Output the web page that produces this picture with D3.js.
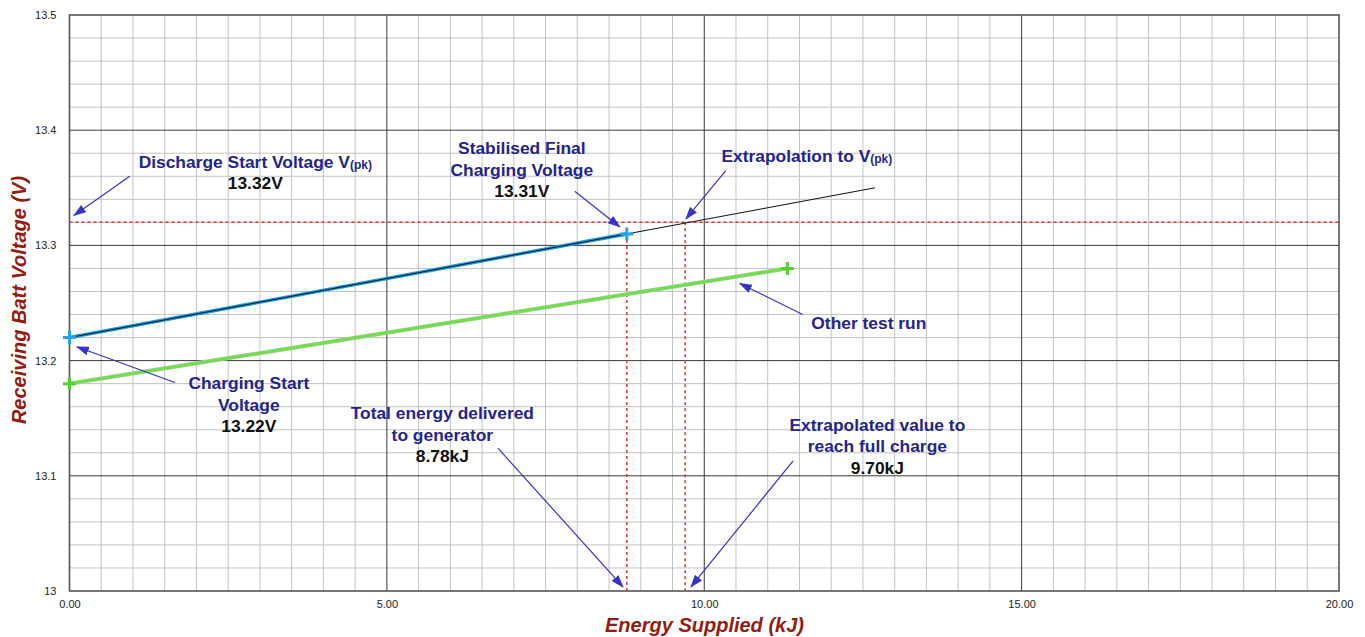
<!DOCTYPE html>
<html>
<head>
<meta charset="utf-8">
<script src="https://cdn.jsdelivr.net/npm/d3@7"></script>
<style>
  html, body { margin: 0; padding: 0; background: #fff; }
  svg { display: block; }
  text { font-family: Helvetica, Arial, "Liberation Sans", sans-serif; }
</style>
</head>
<body>
<svg id="chart" width="1365" height="637"></svg>
<script>
// ---------- data ----------
const xTicks = [0, 5, 10, 15, 20];
const yTicks = [13, 13.1, 13.2, 13.3, 13.4, 13.5];
const yTickLabels = ["13", "13.1", "13.2", "13.3", "13.4", "13.5"];

const chargeRunEnergy = [0, 8.78];
const chargeRunVoltage = [13.22, 13.31];

const otherRunEnergy = [0, 11.31];
const otherRunVoltage = [13.18, 13.28];

const trendEnergy = [0, 12.69];
const trendVoltage = [13.22, 13.35];

const peakVoltage = 13.32;
const totalEnergy = 8.78;
const extrapolatedEnergy = 9.70;
const finalVoltage = 13.31;

// annotation texts (text anchor, arrow tail and tip in data units)
const annotations = [
  { lines: [["Discharge Start Voltage V", "(pk)"], "13.32V"], tx: 2.927, ty: 13.3672,
    tail: [0.95, 13.360], tip: [0.07, 13.326] },
  { lines: ["Charging Start", "Voltage", "13.22V"], tx: 2.825, ty: 13.1753,
    tail: [1.66, 13.181], tip: [0.115, 13.212] },
  { lines: ["Stabilised Final", "Charging Voltage", "13.31V"], tx: 7.126, ty: 13.3793,
    tail: [7.96, 13.347], tip: [8.67, 13.316] },
  { lines: [["Extrapolation to V", "(pk)"]], tx: 11.617, ty: 13.3724,
    tail: [10.34, 13.365], tip: [9.71, 13.323] },
  { lines: ["Other test run"], tx: 12.593, ty: 13.2274,
    tail: [11.55, 13.240], tip: [10.56, 13.267] },
  { lines: ["Total energy delivered", "to generator", "8.78kJ"], tx: 5.874, ty: 13.1493,
    tail: [6.75, 13.124], tip: [8.72, 13.0035] },
  { lines: ["Extrapolated value to", "reach full charge", "9.70kJ"], tx: 12.727, ty: 13.1389,
    tail: [11.40, 13.113], tip: [9.79, 13.0035] }
];

// ---------- layout ----------
const svg = d3.select("#chart");
const pLeft = 69.5, pRight = 1339, pTop = 15, pBottom = 591;
const x = d3.scaleLinear().domain([0, 20]).range([pLeft, pRight]);
const y = d3.scaleLinear().domain([13, 13.5]).range([pBottom, pTop]);

const defs = svg.append("defs");
defs.append("marker")
  .attr("id", "arrow")
  .attr("markerUnits", "userSpaceOnUse")
  .attr("viewBox", "0 0 13 9")
  .attr("refX", 12).attr("refY", 4.5)
  .attr("markerWidth", 13).attr("markerHeight", 9)
  .attr("orient", "auto")
  .append("path").attr("d", "M0,0 L13,4.5 L0,9 Z").attr("fill", "#3434c8");

// ---------- grid ----------
const minorX = d3.range(1, 40).map(i => i * 0.5).filter((v, i) => (i + 1) % 10 !== 0);
const minorY = d3.range(1, 25).map(i => 13 + i * 0.02).filter((v, i) => (i + 1) % 5 !== 0);

const grid = svg.append("g");
grid.selectAll("line.mx").data(minorX).join("line").attr("class", "mx")
  .attr("x1", d => x(d)).attr("x2", d => x(d)).attr("y1", pTop).attr("y2", pBottom)
  .attr("stroke", "#c3c3c3").attr("stroke-width", 1);
grid.selectAll("line.my").data(minorY).join("line").attr("class", "my")
  .attr("y1", d => y(d)).attr("y2", d => y(d)).attr("x1", pLeft).attr("x2", pRight)
  .attr("stroke", "#c3c3c3").attr("stroke-width", 1);
grid.selectAll("line.MX").data(xTicks.slice(1, -1)).join("line").attr("class", "MX")
  .attr("x1", d => x(d)).attr("x2", d => x(d)).attr("y1", pTop).attr("y2", pBottom)
  .attr("stroke", "#3a3a3a").attr("stroke-width", 1);
grid.selectAll("line.MY").data(yTicks.slice(1, -1)).join("line").attr("class", "MY")
  .attr("y1", d => y(d)).attr("y2", d => y(d)).attr("x1", pLeft).attr("x2", pRight)
  .attr("stroke", "#3a3a3a").attr("stroke-width", 1);

svg.append("rect")
  .attr("x", pLeft).attr("y", pTop).attr("width", pRight - pLeft).attr("height", pBottom - pTop)
  .attr("fill", "none").attr("stroke", "#555").attr("stroke-width", 1.6);

// ---------- axes ----------
const xAxis = d3.axisBottom(x).tickValues(xTicks).tickFormat(d3.format(".2f")).tickSize(0).tickPadding(9);
const gx = svg.append("g").attr("transform", `translate(0,${pBottom})`).call(xAxis);
gx.select(".domain").remove();
gx.selectAll("text").attr("font-size", 11).attr("fill", "#222")
  .attr("font-family", "Helvetica, Arial, 'Liberation Sans', sans-serif");

const yAxis = d3.axisLeft(y).tickValues(yTicks).tickFormat((d, i) => yTickLabels[i]).tickSize(0).tickPadding(13);
const gy = svg.append("g").attr("transform", `translate(${pLeft},0)`).call(yAxis);
gy.select(".domain").remove();
gy.selectAll("text").attr("font-size", 11).attr("fill", "#222")
  .attr("font-family", "Helvetica, Arial, 'Liberation Sans', sans-serif");

svg.append("text")
  .attr("x", 704.5).attr("y", 631.5).attr("text-anchor", "middle")
  .attr("font-size", 20).attr("font-weight", "bold").attr("font-style", "italic")
  .attr("fill", "#941c10").text("Energy Supplied (kJ)");
svg.append("text")
  .attr("transform", "translate(25.5,300) rotate(-90)").attr("text-anchor", "middle")
  .attr("font-size", 20).attr("font-weight", "bold").attr("font-style", "italic")
  .attr("fill", "#941c10").text("Receiving Batt Voltage (V)");

// ---------- reference dashed lines ----------
const red = "#e8342a";
svg.append("line")
  .attr("x1", x(0)).attr("x2", x(20)).attr("y1", y(peakVoltage)).attr("y2", y(peakVoltage))
  .attr("stroke", red).attr("stroke-width", 1.5).attr("stroke-dasharray", "3,3");
svg.append("line")
  .attr("x1", x(totalEnergy)).attr("x2", x(totalEnergy)).attr("y1", y(finalVoltage)).attr("y2", y(13))
  .attr("stroke", red).attr("stroke-width", 1.5).attr("stroke-dasharray", "3,3");
svg.append("line")
  .attr("x1", x(extrapolatedEnergy)).attr("x2", x(extrapolatedEnergy)).attr("y1", y(peakVoltage)).attr("y2", y(13))
  .attr("stroke", red).attr("stroke-width", 1.5).attr("stroke-dasharray", "3,3");

// ---------- series ----------
const line = d3.line().x(d => x(d[0])).y(d => y(d[1]));
const zip = (a, b) => a.map((v, i) => [v, b[i]]);

svg.append("path").datum(zip(otherRunEnergy, otherRunVoltage))
  .attr("d", line).attr("fill", "none").attr("stroke", "#b8c8b0").attr("stroke-width", 4.2);
svg.append("path").datum(zip(otherRunEnergy, otherRunVoltage))
  .attr("d", line).attr("fill", "none").attr("stroke", "#6fe04c").attr("stroke-width", 3);

svg.append("path").datum(zip(chargeRunEnergy, chargeRunVoltage))
  .attr("d", line).attr("fill", "none").attr("stroke", "#1c9ee8").attr("stroke-width", 3.6);
svg.append("path").datum(zip(trendEnergy, trendVoltage))
  .attr("d", line).attr("fill", "none").attr("stroke", "#111").attr("stroke-width", 1);

const plus = (cx, cy, color) => {
  const s = 6.5;
  svg.append("path")
    .attr("d", `M${cx - s},${cy} H${cx + s} M${cx},${cy - s} V${cy + s}`)
    .attr("stroke", color).attr("stroke-width", 3).attr("fill", "none");
};
zip(chargeRunEnergy, chargeRunVoltage).forEach(d => plus(x(d[0]), y(d[1]), "#1fa3f2"));
zip(otherRunEnergy, otherRunVoltage).forEach(d => plus(x(d[0]), y(d[1]), "#55d033"));

// ---------- annotations ----------
const lineGap = 21.5;
annotations.forEach(a => {
  svg.append("line")
    .attr("x1", x(a.tail[0])).attr("y1", y(a.tail[1]))
    .attr("x2", x(a.tip[0])).attr("y2", y(a.tip[1]))
    .attr("stroke", "#3434c8").attr("stroke-width", 1.2)
    .attr("marker-end", "url(#arrow)");
  a.lines.forEach((ln, i) => {
    const isValue = typeof ln === "string" && /^[0-9]/.test(ln);
    const t = svg.append("text")
      .attr("x", x(a.tx)).attr("y", y(a.ty) + i * lineGap)
      .attr("text-anchor", "middle")
      .attr("font-size", 17.4).attr("font-weight", "bold")
      .attr("fill", isValue ? "#111" : "#24248e");
    if (Array.isArray(ln)) {
      t.append("tspan").text(ln[0]);
      t.append("tspan").attr("font-size", 12).attr("dy", 1.5).text(ln[1]);
    } else {
      t.text(ln);
    }
  });
});
</script>
</body>
</html>
